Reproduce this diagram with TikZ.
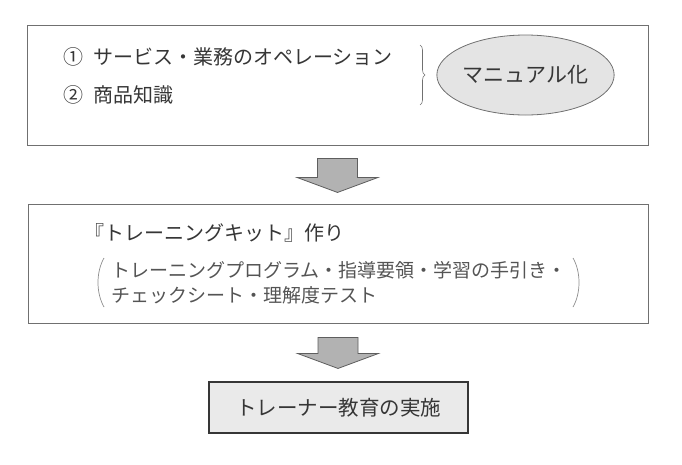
\documentclass[tikz,border=0pt]{standalone}
\usepackage{fontspec}
\usepackage{xcolor}
\usepackage{tikz}
\usetikzlibrary{positioning,shapes.geometric,decorations.pathreplacing}
\newfontfamily\jpfont{Noto Sans CJK JP}

\definecolor{framegray}{HTML}{707070}
\definecolor{inkgray}{HTML}{363636}
\definecolor{ovalfill}{HTML}{E4E4E4}
\definecolor{arrowfill}{HTML}{B2B2B2}
\definecolor{boxfill}{HTML}{EAEAEA}

\tikzset{
  frame/.style={draw=framegray, line width=0.9pt, inner sep=0pt},
  itemtext/.style={text=inkgray, anchor=west, inner sep=0pt,
    font=\jpfont\fontsize{20pt}{24pt}\selectfont},
  subtext/.style={text=inkgray!85, anchor=west, inner sep=0pt, align=left,
    font=\jpfont\fontsize{19pt}{25pt}\selectfont},
  oval/.style={ellipse, draw=framegray, line width=0.8pt, fill=ovalfill,
    text=inkgray, inner sep=0pt, font=\jpfont\fontsize{21pt}{24pt}\selectfont},
  bracket/.style={draw=framegray, line width=0.6pt, decorate,
    decoration={brace, amplitude=5pt}},
  paren/.style={draw=framegray!80, line width=0.7pt},
  finalbox/.style={draw=inkgray, line width=1.4pt, fill=boxfill, text=inkgray,
    inner sep=0pt, font=\jpfont\fontsize{20.5pt}{24pt}\selectfont},
  downarrow/.pic={
    \draw[draw=inkgray!80, line width=0.8pt, fill=arrowfill, line join=miter]
      (-20,0) -- (20,0) -- (20,{#1-15}) -- (40.5,{#1-15}) -- (0,#1)
      -- (-40.5,{#1-15}) -- (-20,{#1-15}) -- cycle;
  }
}

\begin{document}
\begin{tikzpicture}[x=1pt, y=-1pt]
    \useasboundingbox (0,0) rectangle (682,464);
    % top box
    \node[frame, minimum width=621pt, minimum height=120pt] (topbox) at (337.5,85) {};
    \node[itemtext] (operation) at (63,57) {①\hspace{0.5em}サービス・業務のオペレーション};
    \node[itemtext] (knowledge) at (63,95) {②\hspace{0.5em}商品知識};
    \draw[bracket] (420,45) -- (420,105);
    \node[oval, minimum width=169pt, minimum height=80pt] (manual) at (525.5,75) {マニュアル化};
    % arrow 1
    \coordinate (arr1) at ([yshift=-13pt]topbox.south);
    \pic at (arr1) {downarrow=34};
    % middle box
    \node[frame, minimum width=620pt, minimum height=119pt] (kitbox) at (338,263.5) {};
    \node[itemtext] (kittitle) at (84,233) {『トレーニングキット』作り};
    \node[subtext] (kitlist) at (111,282.5) {トレーニングプログラム・指導要領・学習の手引き・\\チェックシート・理解度テスト};
    \draw[paren] (104,258) .. controls (96,272) and (96,293) .. (104,307);
    \draw[paren] (573,258) .. controls (581,272) and (581,293) .. (573,307);
    % arrow 2
    \coordinate (arr2) at ([yshift=-14pt]kitbox.south);
    \pic at (arr2) {downarrow=31};
    % bottom box
    \node[finalbox, minimum width=259pt, minimum height=51pt] (training) at (338.5,407.5) {トレーナー教育の実施};
\end{tikzpicture}
\end{document}
